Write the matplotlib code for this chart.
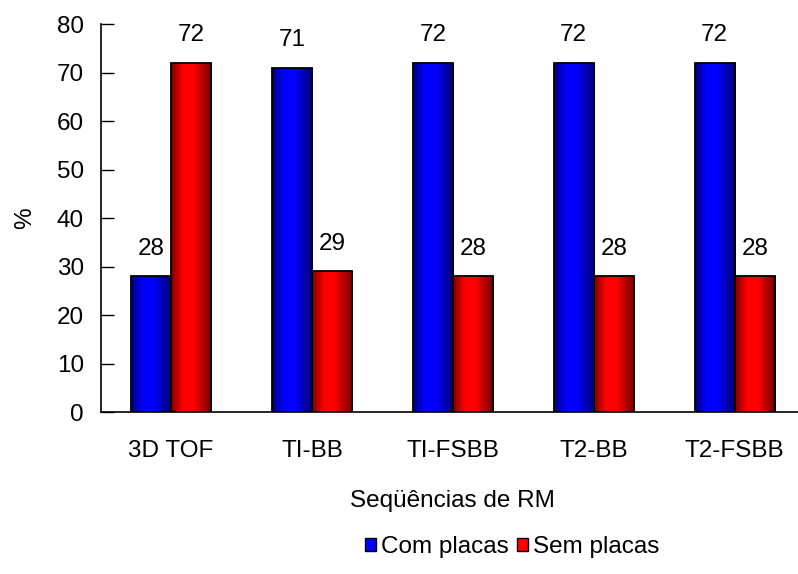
import matplotlib
matplotlib.use("Agg")
import matplotlib.pyplot as plt
import numpy as np
from matplotlib.colors import LinearSegmentedColormap
from matplotlib.patches import Patch

plt.rcParams['font.family'] = ['Liberation Sans', 'DejaVu Sans']

categories = ["3D TOF", "TI-BB", "TI-FSBB", "T2-BB", "T2-FSBB"]
com_placas = [28, 71, 72, 72, 72]
sem_placas = [72, 29, 28, 28, 28]
series_names = ["Com placas", "Sem placas"]

FS = 17.5

fig = plt.figure(figsize=(7.98, 5.74), dpi=100)
ax = fig.add_axes([0.126, 0.282, 0.883, 0.676])

x = np.arange(len(categories))
w = 0.285

def shaded_cmap(base):
    base = np.array(base)
    stops = [(0.0, 0.45), (0.12, 0.7), (0.3, 1.0), (0.55, 1.0), (0.78, 0.7), (1.0, 0.45)]
    return LinearSegmentedColormap.from_list(
        "shade", [(p, tuple(base * v)) for p, v in stops])

cmaps = [shaded_cmap((0, 0, 1)), shaded_cmap((1, 0, 0))]
grad = np.linspace(0, 1, 256).reshape(1, -1)

for i, (vals, cm) in enumerate(zip([com_placas, sem_placas], cmaps)):
    pos = x - w / 2 + i * w
    bars = ax.bar(pos, vals, width=w, facecolor='none', edgecolor='black',
                  linewidth=1.3, zorder=3)
    for b, v in zip(bars, vals):
        x0 = b.get_x()
        im = ax.imshow(grad, cmap=cm, aspect='auto',
                       extent=[x0, x0 + b.get_width(), 0, v], zorder=2)
        im.set_clip_path(b)
        ax.annotate(f"{v}", (x0 + b.get_width() / 2, v), xytext=(0, 20),
                    textcoords='offset points', ha='center', va='center',
                    fontsize=FS)

ax.set_xlim(-0.5, len(categories) - 0.5)
ax.set_ylim(0, 80)
ax.set_yticks(range(0, 81, 10))
ax.set_xticks(x)
ax.set_xticklabels(categories, fontsize=FS)
ax.tick_params(axis='y', direction='in', length=9, width=1, labelsize=FS, pad=12)
ax.tick_params(axis='x', length=0, pad=20)
for s in ['top', 'right']:
    ax.spines[s].set_visible(False)
for s in ['left', 'bottom']:
    ax.spines[s].set_linewidth(1.2)

ax.set_ylabel("%", fontsize=FS, labelpad=15)
ax.set_xlabel("Seqüências de RM", fontsize=FS, labelpad=20)

handles = [Patch(facecolor=(0, 0, 1), edgecolor='black', linewidth=1),
           Patch(facecolor=(1, 0, 0), edgecolor='black', linewidth=1)]
fig.legend(handles, series_names, loc='center', bbox_to_anchor=(512 / 798, 1 - 547 / 574),
           ncol=2, frameon=False, fontsize=FS, handlelength=0.45, handleheight=0.45,
           handletextpad=0.2, columnspacing=0.35)

fig.savefig("out.png", dpi=100)
